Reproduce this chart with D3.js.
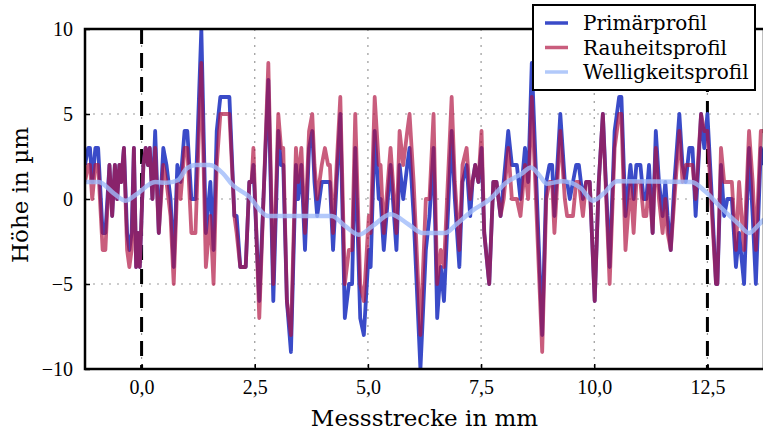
<!DOCTYPE html>
<html>
<head>
<meta charset="utf-8">
<script src="https://cdn.jsdelivr.net/npm/d3@7"></script>
<style>
  body { margin: 0; background: #fff; }
</style>
</head>
<body>
<svg id="chart"></svg>
<script>
// *******************
// data
// *******************

// measurement positions in mm (shared by primary and roughness profile)
const profileX = [
  -1.25, -1.18, -1.14, -1.09, -1.02, -0.96, -0.86, -0.80, -0.71, -0.65,
  -0.59, -0.54, -0.49, -0.45, -0.39, -0.32, -0.27, -0.22, -0.17, -0.12,
  -0.08, -0.04, 0.04, 0.09, 0.14, 0.18, 0.24, 0.30, 0.38, 0.48,
  0.55, 0.64, 0.71, 0.79, 0.86, 0.95, 1.01, 1.10, 1.19, 1.32,
  1.42, 1.52, 1.59, 1.66, 1.74, 1.94, 2.05, 2.10, 2.18, 2.30,
  2.38, 2.43, 2.47, 2.60, 2.80, 2.91, 3.02, 3.08, 3.13, 3.21,
  3.30, 3.41, 3.46, 3.53, 3.61, 3.70, 3.77, 3.82, 3.88, 3.98,
  4.05, 4.12, 4.16, 4.23, 4.39, 4.49, 4.58, 4.65, 4.72, 4.83,
  4.91, 5.02, 5.06, 5.15, 5.24, 5.28, 5.35, 5.50, 5.63, 5.70,
  5.78, 5.87, 5.92, 6.01, 6.16, 6.28, 6.36, 6.45, 6.53, 6.61,
  6.68, 6.85, 6.92, 7.02, 7.09, 7.18, 7.26, 7.31, 7.37, 7.44,
  7.51, 7.57, 7.68, 7.77, 7.84, 7.93, 8.00, 8.10, 8.18, 8.29,
  8.37, 8.47, 8.54, 8.62, 8.85, 8.94, 9.01, 9.07, 9.12, 9.25,
  9.35, 9.40, 9.46, 9.53, 9.60, 9.66, 9.75, 9.82, 9.90, 10.01,
  10.10, 10.19, 10.34, 10.45, 10.55, 10.60, 10.69, 10.80, 10.87, 10.93,
  11.02, 11.09, 11.15, 11.21, 11.29, 11.36, 11.43, 11.51, 11.57, 11.62,
  11.69, 11.77, 11.88, 11.95, 12.02, 12.10, 12.17, 12.24, 12.36, 12.43,
  12.50, 12.58, 12.69, 12.72, 12.80, 12.87, 12.94, 13.04, 13.13, 13.20,
  13.31, 13.42, 13.50, 13.57, 13.68, 13.75
];

// Primärprofil in µm
const primaer = [
  2, 3, 3, 1, 3, 3, -2, -2, 2, -1,
  2, 0, 2, 1, 3, -2, -3, -2, 3, -4,
  -2, -4, 2, 3, 2, 3, 0, 4, -2, 3,
  2, 0, -4, 2, 1, 4, 4, 0, 0, 10,
  -2, 1, -3, 4, 6, 6, -1, -1, -4, -4,
  1, 1, 2, -6, 7, -6, 4, 2, 2, -6,
  -9, 2, 0, 2, -3, 3, 4, 1, -1, 1,
  1, 1, 1, -3, 5, -7, -5, -5, 3, -7,
  -8, -3, -4, 4, 0, 0, -3, 2, -3, 2,
  0, 2, 3, -1, -10, -3, -1, 3, -7, -4,
  -6, 4, 0, -4, 1, 2, -1, 1, 2, 1,
  3, -2, -5, 1, 1, -1, 1, 4, 2, 2,
  0, 3, 1, 8, -8, 1, 2, 2, -1, 5,
  1, 1, 0, 1, 2, 2, 0, 1, 1, -6,
  1, 5, -4, 4, 6, 6, -1, 2, 0, 2,
  2, 0, 0, 2, -2, 4, 1, -1, 1, -1,
  -3, 1, 5, 2, 1, 3, 3, -1, 5, 3,
  5, 1, -5, -5, 2, -1, 0, 0, -4, -2,
  -5, 3, -1, -5, 3, 2
];

// Rauheitsprofil in µm
const rauheit = [
  1, 2, 2, 0, 2, 2, -3, -3, 2, -1,
  2, 0, 2, 1, 3, -3, -4, -3, 3, -4,
  -2, -4, 2, 3, 2, 3, 0, 3, -2, 2,
  1, -1, -5, 1, 0, 3, 3, -2, -2, 8,
  -4, -1, -5, 2, 5, 5, -1, -2, -4, -4,
  1, 1, 3, -7, 8, -5, 5, 3, 3, -6,
  -8, 3, 1, 3, -2, 4, 5, 2, 0, 2,
  3, 2, 2, -2, 6, -5, -3, -3, 5, -5,
  -6, -1, -2, 6, 2, 2, -2, 3, -2, 4,
  2, 4, 5, 1, -8, 0, 0, 5, -5, -3,
  -4, 6, 1, -3, 2, 3, 0, 1, 2, 1,
  4, -2, -5, 1, 1, -1, 0, 3, 0, 0,
  -1, 2, 0, 6, -9, 0, 1, 1, -2, 4,
  0, -1, -1, -1, 1, 1, -1, 1, 1, -6,
  1, 5, -5, 3, 5, 5, -3, 1, -2, 1,
  1, -1, -1, 1, -2, 3, 0, -2, 0, -2,
  -3, 0, 4, 1, 2, 2, 2, 0, 5, 4,
  4, 0, -5, -5, 3, 1, 1, 1, -3, 1,
  -3, 4, 1, -3, 4, 4
];

// Welligkeitsprofil (smooth curve)
const welligX = [
  -1.25, -0.95, -0.6, -0.35, -0.1, 0.3, 0.55, 0.8, 1.0, 1.2,
  1.5, 1.8, 2.0, 2.35, 2.8, 3.2, 4.2, 4.5, 4.8, 5.1,
  5.5, 5.9, 6.2, 6.7, 6.95, 7.3, 7.7, 8.05, 8.4, 8.6,
  8.8, 8.95, 9.3, 9.7, 9.97, 10.2, 10.5, 12.15, 12.45, 12.8,
  13.2, 13.42, 13.64, 13.75
];
const welligY = [
  1.0, 1.0, 0.3, -0.1, 0.3, 1.0, 0.95, 1.1, 1.8, 2.0,
  2.0, 1.5, 0.85, 0.2, -1.0, -1.0, -1.0, -1.6, -2.1, -1.6,
  -0.9, -1.5, -2.0, -2.0, -1.5, -0.7, 0.0, 0.95, 1.5, 1.85,
  1.35, 0.9, 1.05, 0.65, -0.1, 0.3, 1.05, 1.0, 0.45, -0.5,
  -1.5, -2.0, -1.5, -1.2
];

const xTicks = [0, 2.5, 5, 7.5, 10, 12.5];
const yTicks = [-10, -5, 0, 5, 10];
const cutLines = [0, 12.5];
const seriesNames = ["Primärprofil", "Rauheitsprofil", "Welligkeitsprofil"];

// *******************
// layout
// *******************
const WIDTH = 763;
const HEIGHT = 434;
const MARGIN = { LEFT: 85, RIGHT: -1, TOP: 29, BOTTOM: 65 };
const ADJ_WIDTH = WIDTH - MARGIN.LEFT - MARGIN.RIGHT;
const ADJ_HEIGHT = HEIGHT - MARGIN.TOP - MARGIN.BOTTOM;

const TICK_FONT = "Liberation Serif, Times New Roman, serif";
const LABEL_FONT = "DejaVu Serif, serif";

const COLORS = {
  primaer: "#3a4bc8",
  rauheit: "rgba(176, 16, 64, 0.68)",
  wellig: "rgba(160, 188, 250, 0.8)",
};

const svg = d3.select("#chart").attr("width", WIDTH).attr("height", HEIGHT);

const x = d3.scaleLinear().domain([-1.25, 13.75]).range([0, ADJ_WIDTH]);
const y = d3.scaleLinear().domain([-10, 10]).range([ADJ_HEIGHT, 0]);

const g = svg.append("g").attr("transform", `translate(${MARGIN.LEFT},${MARGIN.TOP})`);

g.append("clipPath")
  .attr("id", "plot-clip")
  .append("rect")
  .attr("width", ADJ_WIDTH)
  .attr("height", ADJ_HEIGHT);

// grid (dotted)
const grid = g.append("g").attr("class", "grid");
grid.selectAll("line.gx")
  .data(xTicks)
  .join("line")
  .attr("x1", (d) => x(d))
  .attr("x2", (d) => x(d))
  .attr("y1", 0)
  .attr("y2", ADJ_HEIGHT)
  .style("stroke", "#999")
  .style("stroke-width", 1.2)
  .style("stroke-dasharray", "2,6");
grid.selectAll("line.gy")
  .data(yTicks.filter((d) => d !== -10 && d !== 10))
  .join("line")
  .attr("class", "gy")
  .attr("x1", 0)
  .attr("x2", ADJ_WIDTH)
  .attr("y1", (d) => y(d))
  .attr("y2", (d) => y(d))
  .style("stroke", "#999")
  .style("stroke-width", 1.2)
  .style("stroke-dasharray", "2,6");

// dashed limits of the evaluation length
g.selectAll("line.cut")
  .data(cutLines)
  .join("line")
  .attr("class", "cut")
  .attr("x1", (d) => x(d))
  .attr("x2", (d) => x(d))
  .attr("y1", 0)
  .attr("y2", ADJ_HEIGHT)
  .style("stroke", "#000")
  .style("stroke-width", 3)
  .style("stroke-dasharray", "15,9");

// profile lines
const plot = g.append("g").attr("clip-path", "url(#plot-clip)");

const profileLine = (values) =>
  d3.line()
    .x((d, i) => x(profileX[i]))
    .y((d) => y(d))(values);

plot.append("path")
  .attr("d", profileLine(primaer))
  .style("fill", "none")
  .style("stroke", COLORS.primaer)
  .style("stroke-width", 3.8)
  .style("stroke-linejoin", "round");

plot.append("path")
  .attr("d", profileLine(rauheit))
  .style("fill", "none")
  .style("stroke", COLORS.rauheit)
  .style("stroke-width", 3.8)
  .style("stroke-linejoin", "round");

const welligLine = d3.line()
  .x((d, i) => x(welligX[i]))
  .y((d) => y(d))
  .curve(d3.curveMonotoneX);

plot.append("path")
  .attr("d", welligLine(welligY))
  .style("fill", "none")
  .style("stroke", COLORS.wellig)
  .style("stroke-width", 4.5);

// axes (ticks inward)
const xAxis = d3.axisBottom(x)
  .tickValues(xTicks)
  .tickSize(-5)
  .tickPadding(11)
  .tickFormat((d) => d3.format(".1f")(d).replace(".", ","));
const yAxis = d3.axisLeft(y)
  .tickValues(yTicks)
  .tickSize(-5)
  .tickPadding(12)
  .tickFormat((d) => (d < 0 ? "\u2212" + Math.abs(d) : d));

const gx = g.append("g").attr("transform", `translate(0,${ADJ_HEIGHT})`).call(xAxis);
const gy = g.append("g").call(yAxis);
[gx, gy].forEach((a) => {
  a.attr("font-family", TICK_FONT).attr("font-size", 20);
  a.select(".domain").remove();
  a.selectAll(".tick line").style("stroke", "#000").style("stroke-width", 1.5);
  a.selectAll(".tick text").style("fill", "#000");
});

// frame
g.append("rect")
  .attr("width", ADJ_WIDTH)
  .attr("height", ADJ_HEIGHT)
  .style("fill", "none")
  .style("stroke", "#000")
  .style("stroke-width", 2.5);

// axis titles
svg.append("text")
  .attr("x", MARGIN.LEFT + x(6.25))
  .attr("y", 426)
  .attr("text-anchor", "middle")
  .attr("font-family", LABEL_FONT)
  .attr("font-size", 23)
  .text("Messstrecke in mm");

svg.append("text")
  .attr("transform", `translate(28,195) rotate(-90)`)
  .attr("text-anchor", "middle")
  .attr("font-family", LABEL_FONT)
  .attr("font-size", 23)
  .text("Höhe in µm");

// legend
const legend = svg.append("g").attr("transform", "translate(533,5)");
legend.append("rect")
  .attr("width", 222)
  .attr("height", 85)
  .style("fill", "#fff")
  .style("stroke", "#000")
  .style("stroke-width", 2);

const legendColors = [COLORS.primaer, COLORS.rauheit, "rgba(170,195,250,0.9)"];
const rows = legend.selectAll("g.row")
  .data(seriesNames)
  .join("g")
  .attr("class", "row")
  .attr("transform", (d, i) => `translate(0,${18 + i * 24.5})`);
rows.append("line")
  .attr("x1", 12)
  .attr("x2", 35)
  .style("stroke", (d, i) => legendColors[i])
  .style("stroke-width", 3.5);
rows.append("text")
  .attr("x", 50)
  .attr("dy", "0.35em")
  .attr("font-family", LABEL_FONT)
  .attr("font-size", 20)
  .text((d) => d);
</script>
</body>
</html>
